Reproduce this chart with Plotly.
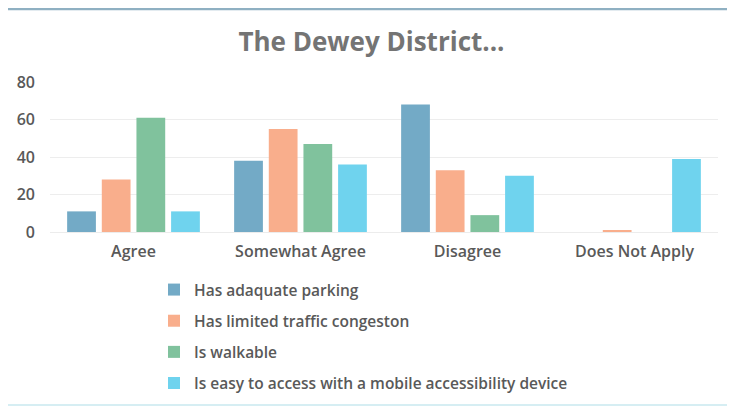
import plotly.graph_objects as go

categories = ["Agree", "Somewhat Agree", "Disagree", "Does Not Apply"]
series_names = [
    "Has adaquate parking",
    "Has limited traffic congeston",
    "Is walkable",
    "Is easy to access with a mobile accessibility device",
]
parking = [11, 38, 68, 0]
traffic = [28, 55, 33, 1]
walkable = [61, 47, 9, 0]
access = [11, 36, 30, 39]
colors = ["#73aac6", "#f9ae8c", "#80c29d", "#6fd3ee"]
y_ticks = [0, 20, 40, 60, 80]

values = [parking, traffic, walkable, access]

fig = go.Figure()
for i, (name, vals, col) in enumerate(zip(series_names, values, colors)):
    fig.add_trace(go.Bar(
        x=categories, y=vals, name=name, marker_color=col,
        marker_line_width=0, legendgroup=f"g{i}",
    ))

# the page body adds an 8px offset, so the figure is 8px smaller each way
W, H = 727, 398
ml, mr, mt, mb = 42, 17, 74, 174
pw = W - ml - mr
ph = H - mt - mb

font_family = "Open Sans, Liberation Sans, sans-serif"
gray = "#595959"

fig.update_layout(
    width=W, height=H,
    margin=dict(l=ml, r=mr, t=mt, b=mb, autoexpand=False),
    paper_bgcolor="white", plot_bgcolor="white",
    barmode="group", bargap=0.17, bargroupgap=0.17,
    title=dict(text="<b>The Dewey District...</b>", x=0.5, xref="container",
               y=1 - 34 / H, yref="container", yanchor="middle",
               font=dict(size=26, color="#747474", family=font_family)),
    font=dict(family=font_family, color=gray, size=15),
    xaxis=dict(showgrid=False, showline=True, linecolor="#ececec", linewidth=1,
               ticks="", tickangle=0,
               tickfont=dict(size=16, color=gray, weight=600), ticklabelstandoff=5),
    yaxis=dict(range=[0, 80], tickvals=y_ticks, showgrid=True, gridcolor="#ededed",
               zeroline=False, showline=False, ticks="",
               tickfont=dict(size=16, color=gray, weight=600), ticklabelstandoff=14),
    legend=dict(orientation="v", xref="container", yref="container",
                x=146 / W, xanchor="left", y=1 - 265 / H, yanchor="top",
                font=dict(size=15.5, color=gray, family=font_family, weight=600),
                tracegroupgap=8, traceorder="grouped",
                itemwidth=30, bgcolor="rgba(0,0,0,0)"),
    shapes=[
        dict(type="line", xref="paper", yref="paper",
             x0=-ml / pw, x1=1 + mr / pw, y0=1 + (mt - 1) / ph, y1=1 + (mt - 1) / ph,
             line=dict(color="#8fb0c2", width=2.5)),
        dict(type="line", xref="paper", yref="paper",
             x0=-ml / pw, x1=1 + mr / pw, y0=-(mb - 1) / ph, y1=-(mb - 1) / ph,
             line=dict(color="#d6eef3", width=2)),
        dict(type="line", xref="paper", yref="paper",
             x0=1 + (mr - 5) / pw, x1=1 + (mr - 5) / pw, y0=-(mb - 1) / ph, y1=1 + (mt - 3) / ph,
             line=dict(color="#f0f3f5", width=1)),
    ],
)

fig.write_html("out.html")
